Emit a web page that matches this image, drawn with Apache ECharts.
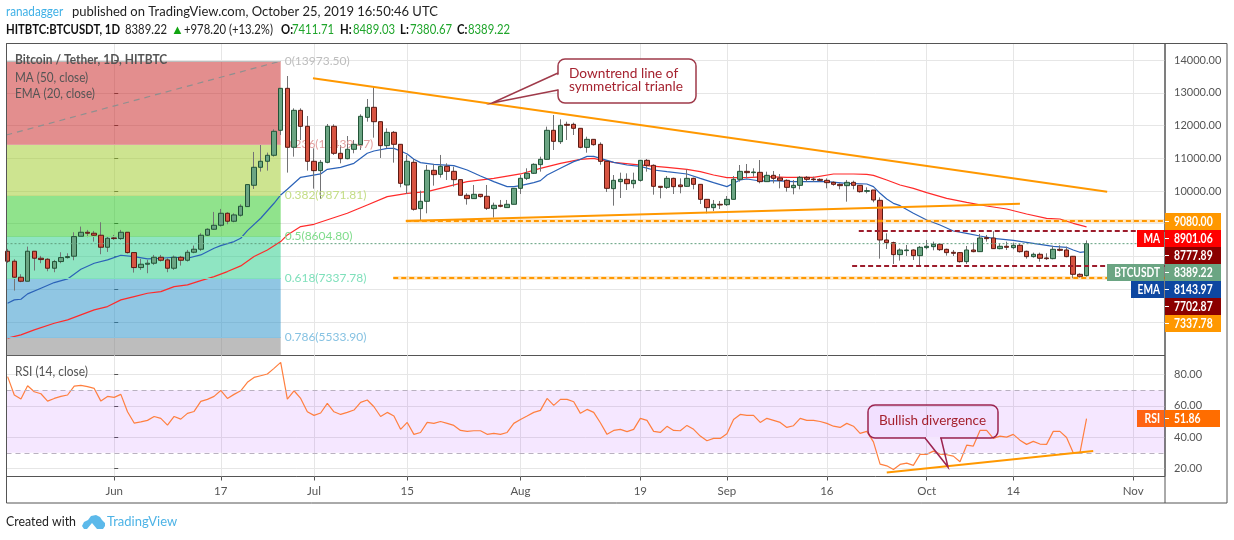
<!DOCTYPE html>
<html><head><meta charset="utf-8">
<script src="https://cdn.jsdelivr.net/npm/echarts@6/dist/echarts.min.js"></script>
<style>html,body{margin:0;padding:0;background:#fff}#c{width:1234px;height:540px}</style>
</head><body><div id="c"></div>
<script>
// Daily candles, first bar = May 16 (day -16 counted from Jun 1)
const firstDay = -16;
const candleOpen = [8158,7852,7363,7240,8158,7944,7913,7638,7842,7964,
8005,8616,8738,8708,8647,8280,8565,8545,8738,8117,
7658,7760,7791,7974,7893,7638,7974,7882,8127,8219,
8647,8830,8952,9319,9075,9258,9523,10175,10725,10909,
11092,11856,13140,11337,12467,11978,10908,10623,10877,11978,
11153,10989,11275,11417,12253,12559,12120,11387,11794,11428,
10184,10877,9461,9685,10633,10510,10755,10602,10347,9869,
9767,9899,9838,9461,9563,9492,9593,10082,10388,10541,
10806,10969,11856,11509,12039,12039,11917,11335,11580,11427,
10907,10072,10286,10357,10224,10326,10938,10785,10143,10112,
10387,10184,10143,10387,10204,9745,9491,9593,9582,9745,
10357,10601,10561,10571,10286,10479,10398,10326,10102,10173,
10418,10367,10357,10326,10265,10204,10163,10265,10173,9990,
10031,9715,8502,8421,8054,8176,8196,8023,8268,8298,
8370,8217,8125,8115,7840,8196,8145,8573,8563,8237,
8309,8268,8339,8156,7993,8064,7952,7931,8217,8196,
8003,7452,7411.71];
const candleClose = [7852,7363,7240,8158,7944,7903,7638,7842,7964,7995,
8606,8738,8708,8647,8280,8555,8545,8738,8117,7658,
7760,7791,7974,7882,7638,7974,7882,8127,8219,8647,
8830,8952,9319,9075,9268,9533,10196,10725,10909,11092,
11826,13140,11337,12467,11978,10908,10623,10877,11978,11153,
10989,11275,11428,12284,12559,12120,11387,11794,11428,10235,
10908,9441,9685,10633,10500,10755,10602,10347,9869,9767,
9899,9828,9471,9563,9532,9593,10082,10388,10541,10816,
10969,11856,11519,12008,12010,11917,11336,11580,11417,10907,
10082,10326,10357,10224,10326,10938,10785,10143,10112,10387,
10133,10133,10387,10204,9745,9491,9593,9572,9745,10357,
10601,10561,10581,10286,10479,10387,10326,10112,10173,10418,
10357,10347,10326,10255,10204,10163,10265,10173,9980,10010,
9725,8502,8421,8054,8196,8196,8023,8278,8309,8370,
8206,8115,8095,7840,8196,8145,8563,8543,8237,8309,
8278,8339,8145,7993,8064,7942,7931,8217,8186,7993,
7452,7381,8389.22];
const candleLow = [7800,6955,7210,7240,7567,7791,7546,7516,7791,7933,
7882,8606,8586,8453,8066,8137,8504,8504,8086,7505,
7587,7485,7740,7842,7516,7587,7719,7842,8096,8168,
8606,8810,8912,8983,9044,9217,9523,10063,10593,10623,
11052,11714,10562,11051,11560,10623,10072,9756,10847,11102,
10847,10969,11153,11254,12120,11631,11010,11305,10867,10113,
9909,9400,9094,9318,10164,10409,10337,10134,9869,9583,
9767,9797,9420,9186,9502,9492,9593,9909,10337,10521,
10592,10969,11254,11438,11560,11713,11305,11172,11386,10805,
9970,9552,9786,10031,10082,10286,10591,9888,9776,10061,
9909,9929,10133,10051,9603,9317,9389,9450,9542,9745,
10286,10387,10438,10235,10286,10235,10082,9980,9898,10051,
10286,10286,10286,10082,10163,10051,9674,10051,9949,9929,
9654,7931,8227,7768,7870,8013,7891,7707,8217,8186,
8166,8023,8013,7809,7768,8125,8145,8451,8227,8217,
8196,8217,8115,7931,7962,7840,7891,7911,8156,7972,
7330,7350,7380.67];
const candleHigh = [8230,7913,7455,8300,8158,8015,7944,7893,8127,8096,
8738,8912,8810,8779,9044,8606,8657,8810,8738,8117,
7923,7893,8045,8045,7944,8025,8015,8198,8331,8708,
8861,9360,9452,9350,9319,9594,10206,11194,11408,11174,
11887,13140,13517,12528,12528,12294,11305,10949,12049,12039,
11407,11682,11560,12345,12813,13211,12120,11917,11835,11428,
11102,10979,10011,10796,10816,11102,10847,10745,10347,9930,
10184,9899,10184,9644,9726,9726,10082,10490,10694,10847,
11051,11968,12324,12192,12120,12090,11917,11661,11580,11488,
10907,10489,10561,10540,10561,10938,10978,10815,10143,10459,
10408,10387,10663,10408,10204,9745,9725,9695,9847,10459,
10795,10826,10693,10948,10591,10612,10520,10357,10337,10459,
10459,10438,10387,10387,10296,10235,10337,10316,10173,10112,
10031,9806,8706,8451,8247,8349,8217,8319,8502,8451,
8400,8237,8196,8135,8319,8421,8686,8655,8767,8400,
8451,8421,8380,8176,8115,8115,8095,8319,8339,8298,
8013,7483,8489.03];

// EMA 20: bar number (1 = first candle) and value, read at the visible bends
const emaBar = [1,2,3,4,6,8,10,12,14,16,18,20,22,24,26,28,30,32,33,35,36,37,39,41,42,43,45,48,49,51,53,55,56,58,59,60,61,62,63,65,68,70,72,74,76,77,78,80,81,82,84,86,87,88,89,90,92,94,96,98,100,103,105,107,109,110,111,112,114,116,119,124,127,130,131,132,133,134,135,137,139,141,143,145,147,149,152,155,158,160,161,162,163];
const emaValue = [6568,6670,6690,6853,7027,7200,7312,7607,7791,7893,8035,7995,7923,7944,7974,7944,8045,8249,8331,8453,8555,8789,9166,9625,9880,10052,10419,10521,10663,10724,10847,11153,11224,11305,11305,11224,11132,10969,10867,10816,10775,10643,10460,10286,10134,10134,10164,10256,10317,10490,10694,10898,10969,11060,11060,11000,10877,10795,10754,10642,10591,10520,10387,10255,10133,10235,10337,10367,10306,10316,10286,10286,10235,10214,10133,9929,9755,9623,9552,9317,9114,8961,8777,8706,8624,8553,8492,8400,8308,8278,8196,8125,8143.97];
// MA 50
const maBar = [1,3,5,8,10,12,14,16,18,20,22,24,26,28,30,32,34,36,38,40,42,43,45,47,52,55,58,61,64,67,70,74,78,81,84,87,89,90,92,95,97,100,103,105,107,109,112,115,118,122,125,128,130,131,133,135,137,139,142,145,148,151,154,157,159,161,163];
const maValue = [5498,5600,5753,5956,6058,6211,6364,6466,6670,6772,6873,6924,7077,7128,7261,7383,7536,7709,7995,8198,8453,8656,8911,8982,9318,9573,9828,9930,9981,10134,10286,10388,10521,10694,10847,10969,11000,10948,10877,10815,10775,10724,10663,10591,10489,10408,10408,10438,10418,10418,10520,10520,10510,10479,10336,10183,10082,9949,9776,9654,9541,9450,9297,9164,9144,9012,8901.06];
// RSI 14, one value per candle
const rsiValue = [78.6,66.9,64.3,72.8,69,67.7,63,64.7,66,66.9,
72.6,73,72.2,71.1,63,66,65.4,67.3,56.2,49,
49.8,50.7,53.2,52,47.7,53.2,51.5,55.2,56.4,62.8,
64.1,66,69.8,64.7,67.3,69.6,75,78.1,79.2,80.3,
83.9,87.7,64.3,69.6,64.7,56.2,53.9,55.4,61.5,56.2,
54.5,55.8,57.3,62.2,63.7,59.4,53.2,55.8,53.5,45,
49.4,41.8,43,49.4,48.8,50,48.8,47.5,44.3,43.7,
44.1,44.1,41.8,42.4,41.8,43,48.8,51.3,53.5,55.8,
57.1,64.7,60.3,64.1,64.1,62.6,55.2,57.7,55.8,49.2,
41.8,44.3,45,43.5,45,52,50.7,43.7,43,46.9,
44.3,44.1,47.5,45,40.7,37.7,39.2,39.2,42.2,51.3,
54.5,53.9,53.9,49.4,52,50.7,49.4,46.2,47.3,52,
50.7,50.7,50,48.8,47,46.2,48.8,47,42.4,43.7,
37,22.8,21.7,19.4,22.6,23.4,22,29,29,31.1,
29.2,28.8,27.9,24.3,34.9,34.3,44.3,44.3,39.2,40.7,
40,41.8,38.1,35.4,37.3,35.6,35.4,43.7,43.7,39.8,
30,29.8,51.86];

// Axis ticks
const dateTickDays = [0,16,30,44,61,79,92,107,122,135,153];
const dateTickLabels = ['Jun','17','Jul','15','Aug','19','Sep','16','Oct','14','Nov'];
const priceTicks = [6000,7000,8000,9000,10000,11000,12000,13000,14000];
const rsiTicks = [20,40,60,80];

// Fibonacci retracement
const fibRatio = ['0','0.236','0.382','0.5','0.618','0.786'];
const fibPrice = [13973.50,11439.47,9871.81,8604.80,7337.78,5533.90];
const fibFill = ['rgba(199,29,29,.5)','rgba(155,201,33,.5)','rgba(33,199,25,.5)','rgba(31,203,133,.5)','rgba(33,141,199,.5)','rgba(123,123,123,.5)'];
const fibLine = ['#bdbdbd','#e3a0a0','#c4dd86','#7fdc8b','#7fe0bb','#86c2e2'];
const fibEndDay = 25;
const fibDiagonal = [[-16.2,11712],[25,13973.5]];

// Drawn lines
const downtrend = [[29.85,13445],[149.1,9980]];
const lowerTrend = [[43.8,9085],[136,9610]];
const rsiTrend = [[116,17.5],[147,31.1]];
const resistance = 9080, support = 7337.78, rangeHigh = 8777.89, rangeLow = 7702.87;
const lastPrice = 8389.22;
const xMin = -16.17, xMax = 157.78;
const yMin = 4969, yMax = 14511;

// Axis tags
const tagValues = ['9080.00','8901.06','8777.89','8389.22','8143.97','7702.87','7337.78'];
const tagColors = ['#ff9800','#ff0000','#8b0000','#6ba583','#0d47a1','#8b0000','#ff9800'];
const tagNames = ['','MA','','BTCUSDT','EMA','',''];

const FONT = 'Lato, sans-serif';
const GRAY = '#555';
const flat = (v, from) => [[from, v],[xMax, v]];

const days = candleOpen.map((_, i) => firstDay + i);
const wickData = days.map((d, i) => [d, candleOpen[i], candleClose[i], candleLow[i], candleHigh[i]]);
const bodyData = days.map((d, i) => [d, candleOpen[i], candleClose[i], Math.min(candleOpen[i], candleClose[i]), Math.max(candleOpen[i], candleClose[i])]);
const emaData = emaBar.map((b, i) => [firstDay + b - 1, emaValue[i]]);
const maData = maBar.map((b, i) => [firstDay + b - 1, maValue[i]]);
const rsiData = days.map((d, i) => [d, rsiValue[i]]);

function lineS(name, data, color, width, extra) {
  return Object.assign({name, type:'line', data, showSymbol:false, symbol:'none', silent:true, animation:false,
    xAxisIndex:0, yAxisIndex:0, lineStyle:{color, width}}, extra||{});
}

const fibAreas = fibPrice.map((p, i) => [
  {coord:[xMin, p], itemStyle:{color:fibFill[i]}},
  {coord:[fibEndDay, i < fibPrice.length-1 ? fibPrice[i+1] : yMin]}
]);
const fibMarks = fibPrice.map((p, i) => [
  {coord:[xMin, p], lineStyle:{color:fibLine[i], width:1, type:'solid'},
   label:{show:true, position:'end', distance:4, color:fibLine[i], fontFamily:FONT, fontSize:12,
          formatter: fibRatio[i] + '(' + p.toFixed(2) + ')'}},
  {coord:[fibEndDay, p]}
]);

const option = {
  animation:false,
  backgroundColor:'#fff',
  grid:[
    {left:6.5, top:43.5, width:1158.5, height:312, show:true, borderColor:'#555', borderWidth:1, backgroundColor:'transparent'},
    {left:6.5, top:355.5, width:1158.5, height:121, show:true, borderColor:'#555', borderWidth:1, backgroundColor:'transparent'}
  ],
  xAxis:[
    {type:'value', gridIndex:0, min:xMin, max:xMax, axisLine:{show:false}, axisTick:{show:false, customValues:dateTickDays},
     axisLabel:{show:false, customValues:dateTickDays}, splitLine:{show:true, lineStyle:{color:'#e6e6e6', width:1}}},
    {type:'value', gridIndex:1, min:xMin, max:xMax, axisLine:{show:false},
     axisTick:{show:true, length:4, customValues:dateTickDays, lineStyle:{color:'#555'}},
     axisLabel:{show:true, customValues:dateTickDays, margin:9, color:GRAY, fontFamily:FONT, fontSize:11.5,
        formatter:v => dateTickLabels[dateTickDays.indexOf(v)]},
     splitLine:{show:true, lineStyle:{color:'#e6e6e6', width:1}}}
  ],
  yAxis:[
    {type:'value', gridIndex:0, position:'right', min:yMin, max:yMax, axisLine:{show:false},
     axisTick:{show:true, length:4, customValues:priceTicks, lineStyle:{color:'#555'}},
     axisLabel:{show:true, customValues:priceTicks, margin:9, color:GRAY, fontFamily:FONT, fontSize:11, formatter:v => v.toFixed(2)},
     splitLine:{show:true, lineStyle:{color:'#e6e6e6', width:1}}},
    {type:'value', gridIndex:1, position:'right', min:14.9, max:92.1, axisLine:{show:false},
     axisTick:{show:true, length:4, customValues:rsiTicks, lineStyle:{color:'#555'}},
     axisLabel:{show:true, customValues:rsiTicks, margin:9, color:GRAY, fontFamily:FONT, fontSize:11, formatter:v => v.toFixed(2)},
     splitLine:{show:true, lineStyle:{color:'#e6e6e6', width:1}}}
  ],
  series:[
    lineS('MA', maData, '#ff2a2a', 1.2, {z:2}),
    lineS('EMA', emaData, '#2b62b8', 1.2, {z:2}),
    lineS('Fib', [], '#999', 1, {z:3,
      markArea:{silent:true, animation:false, data:fibAreas},
      markLine:{silent:true, animation:false, symbol:'none', data:fibMarks}}),
    lineS('FibDiagonal', fibDiagonal, '#8f8f8f', 1.2, {z:3, lineStyle:{color:'#8f8f8f', width:1.2, type:[6,5]}}),
    {name:'wick', type:'candlestick', xAxisIndex:0, yAxisIndex:0, z:4, barWidth:1, silent:true, animation:false, data:wickData,
     itemStyle:{color:'#737375', color0:'#737375', borderColor:'#737375', borderColor0:'#737375', borderWidth:1}},
    {name:'body', type:'candlestick', xAxisIndex:0, yAxisIndex:0, z:5, barWidth:5, silent:true, animation:false, data:bodyData,
     itemStyle:{color:'#6ba583', color0:'#d75442', borderColor:'#225437', borderColor0:'#5b1a13', borderWidth:1}},
    lineS('Last', flat(lastPrice, xMin), '#5f9e7c', 1, {z:6, lineStyle:{color:'#5f9e7c', width:1, type:[2,2]}}),
    lineS('Down', downtrend, '#ff9800', 2, {z:6}),
    lineS('Lower', lowerTrend, '#ff9800', 2, {z:6}),
    lineS('ResBg', flat(resistance, 43.8), 'rgba(255,152,0,.22)', 4, {z:6}),
    lineS('Res', flat(resistance, 43.8), '#ff9800', 2, {z:6, lineStyle:{color:'#ff9800', width:2, type:[5,3]}}),
    lineS('SupBg', flat(support, 41.9), 'rgba(255,152,0,.22)', 4, {z:6}),
    lineS('Sup', flat(support, 41.9), '#ff9800', 2, {z:6, lineStyle:{color:'#ff9800', width:2, type:[5,3]}}),
    lineS('RangeHi', flat(rangeHigh, 111.8), '#8b0000', 2, {z:6, lineStyle:{color:'#9c1c2c', width:2, type:[5,3]}}),
    lineS('RangeLo', flat(rangeLow, 110.8), '#8b0000', 2, {z:6, lineStyle:{color:'#9c1c2c', width:2, type:[5,3]}}),
    lineS('RSI', rsiData, '#ff7f3f', 1.2, {xAxisIndex:1, yAxisIndex:1, z:4,
      markArea:{silent:true, animation:false, itemStyle:{color:'rgba(153,21,255,.1)'}, data:[[{yAxis:70},{yAxis:30}]]},
      markLine:{silent:true, animation:false, symbol:'none', label:{show:false},
        lineStyle:{color:'#b9b1c0', type:[5,4], width:1}, data:[{yAxis:70},{yAxis:30}]}}),
    lineS('RSITrend', rsiTrend, '#ff9800', 2, {xAxisIndex:1, yAxisIndex:1, z:5})
  ],
  graphic:{elements:[]}
};

const G = option.graphic.elements;
const txt = (x, y, text, fill, size, weight, align, sx) => G.push({type:'text', x, y, scaleX:sx||1, z:100, silent:true,
  style:{text, fill, font:(weight||'normal')+' '+(size||13)+'px '+FONT, textAlign:align||'left', textVerticalAlign:'middle'}});
// outer frame and right-axis divider
G.push({type:'rect', z:90, silent:true, shape:{x:6.5,y:43.5,width:1220.5,height:459.5}, style:{fill:'transparent', stroke:'#555', lineWidth:1}});
G.push({type:'line', z:90, silent:true, shape:{x1:1165,y1:43.5,x2:1165,y2:503}, style:{stroke:'#555', lineWidth:1}});
// header
txt(6,12,'ranadagger','#3fb0e6',13,'normal','left',.9);
txt(72,12,'published on TradingView.com, October 25, 2019 16:50:46 UTC','#222',13);
const H2 = .87, HG = '#1fa52b';
txt(6,30,'HITBTC:BTCUSDT, 1D','#111',13,'700','left',H2);
txt(125,30,'8389.22','#222',13,'normal','left',H2);
txt(171,30,'▲','#12a512',13,'normal','left',1);
txt(184,30,'+978.20 (+13.2%)','#222',13,'normal','left',H2);
txt(281,30,'O:','#111',13,'700','left',H2); txt(292,30,'7411.71',HG,13,'normal','left',H2);
txt(340,30,'H:','#111',13,'700','left',H2); txt(353,30,'8489.03',HG,13,'normal','left',H2);
txt(400,30,'L:','#111',13,'700','left',H2); txt(410,30,'7380.67',HG,13,'normal','left',H2);
txt(457,30,'C:','#111',13,'700','left',H2); txt(468,30,'8389.22',HG,13,'normal','left',H2);
// pane legends
txt(15,60,'Bitcoin / Tether, 1D, HITBTC','#555',13,'700','left',.92);
txt(15,78,'MA (50, close)','#555',13,'normal','left',.9);
txt(15,94,'EMA (20, close)','#555',13,'normal','left',.9);
txt(15,372,'RSI (14, close)','#555',13,'normal','left',.92);
// value tags
tagValues.forEach((v, i) => {
  const top = 213 + 17*i;
  G.push({type:'rect', z:95, silent:true, shape:{x:1165,y:top,width:56,height:17}, style:{fill:tagColors[i]}});
  G.push({type:'line', z:96, silent:true, shape:{x1:1165,y1:top+8.5,x2:1169,y2:top+8.5}, style:{stroke:'#fff', lineWidth:1}});
  txt(1174, top+8.5, v, '#fff', 13, '700', 'left', .8);
  if (tagNames[i]) {
    const w = {MA:27, BTCUSDT:57, EMA:33}[tagNames[i]];
    G.push({type:'rect', z:95, silent:true, shape:{x:1164-w,y:top,width:w,height:17}, style:{fill:tagColors[i]}});
    txt(1160, top+8.5, tagNames[i], '#fff', 13, '700', 'right', .78);
  }
});
// RSI tag
G.push({type:'rect', z:95, silent:true, shape:{x:1165,y:410,width:55,height:17}, style:{fill:'#ff6d00'}});
G.push({type:'rect', z:95, silent:true, shape:{x:1137,y:410,width:27,height:17}, style:{fill:'#ff6414'}});
G.push({type:'line', z:96, silent:true, shape:{x1:1165,y1:418.5,x2:1169,y2:418.5}, style:{stroke:'#fff', lineWidth:1}});
txt(1174,418.5,'51.86','#fff',13,'700','left',.8);
txt(1160,418.5,'RSI','#fff',13,'700','right',.8);
// callouts
const BORDER = '#9f3a4a';
G.push({type:'rect', z:97, silent:true, shape:{x:558,y:59,width:138,height:44,r:7}, style:{fill:'#fff', stroke:BORDER, lineWidth:1.5}});
G.push({type:'polygon', z:98, silent:true, shape:{points:[[560,74],[492,103],[560,89]]}, style:{fill:'#fff'}});
G.push({type:'polyline', z:98, silent:true, shape:{points:[[558,73],[492,103],[558,90]]}, style:{fill:'none', stroke:BORDER, lineWidth:1.5}});
txt(569,74,'Downtrend line of','#a5222f',13.7);
txt(569,87,'symmetrical trianle','#a5222f',13.7);
G.push({type:'rect', z:97, silent:true, shape:{x:868,y:405,width:130,height:33,r:7}, style:{fill:'rgba(153,21,255,.03)', stroke:'#9c2450', lineWidth:1.5}});
G.push({type:'line', z:98, silent:true, shape:{x1:926,y1:438,x2:940,y2:438}, style:{stroke:'#f4e6fd', lineWidth:2}});
G.push({type:'polyline', z:98, silent:true, shape:{points:[[925,438],[948,467],[941,438]]}, style:{fill:'none', stroke:'#9c2450', lineWidth:1.5}});
txt(879,421,'Bullish divergence','#a5222f',13.5);
// footer
txt(6,522,'Created with','#222',13,'normal','left',.95);
G.push({type:'polygon', z:100, silent:true, shape:{points:[[82,526],[84,522],[88,520],[91,516],[96,515],[100,517],[102,520],[105,523],[105,526],[103,529],[97,529],[92,523],[87,529],[84,529]]}, style:{fill:'#5cb9ea'}});
txt(107,522,'TradingView','#4db3e6',13);

echarts.init(document.getElementById('c'), null, {renderer:'canvas'}).setOption(option);
</script></body></html>
